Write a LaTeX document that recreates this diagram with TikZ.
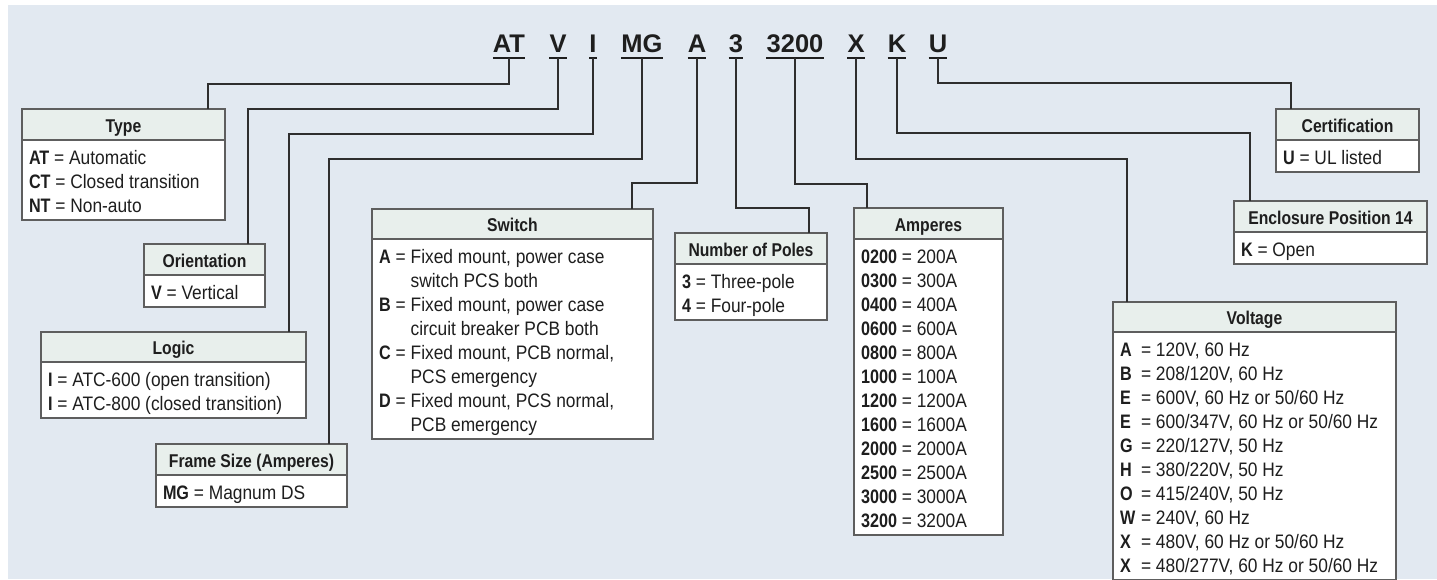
\documentclass[tikz,border=0pt]{standalone}
\usepackage{fontspec}
\setmainfont{Liberation Sans}
\newfontfamily\txtfnt{Liberation Sans}[FakeStretch=0.89]
\newfontfamily\lblfnt{Liberation Sans Bold}[FakeStretch=0.83]
\newfontfamily\hdrfnt{Liberation Sans Bold}[FakeStretch=0.85]
\newfontfamily\codefnt{Liberation Sans Bold}
\newcommand\lb[1]{{\lblfnt #1}}
\definecolor{bgcol}{HTML}{E2E9F1}
\definecolor{hdrcol}{HTML}{E8EFEC}
\definecolor{bordercol}{HTML}{5E5E5E}
\definecolor{linecol}{HTML}{2E2E2E}
\definecolor{textcol}{HTML}{1E1E1E}
\usetikzlibrary{calc}
\tikzset{
  hdr/.style={draw=bordercol, line width=1.3pt, fill=hdrcol, anchor=north west, inner sep=0pt, outer sep=0pt,
    font=\hdrfnt\fontsize{18.5}{20}\selectfont, text=textcol, text height=15pt, text depth=0pt},
  bdy/.style={draw=bordercol, line width=1.3pt, fill=white, anchor=north west, inner xsep=7pt, inner ysep=0pt, outer sep=0pt,
    font=\txtfnt\fontsize{19.5}{24}\selectfont, text=textcol, text height=24pt},
  conn/.style={draw=linecol, line width=1.4pt},
  code/.style={font=\codefnt\fontsize{25.5}{28}\selectfont, text=textcol, anchor=base, inner sep=0pt},
  uline/.style={draw=textcol, line width=2.6pt},
}
\begin{document}
\begin{tikzpicture}[x=1pt,y=-1pt]
\path[use as bounding box] (0,0) rectangle (1437,579);
\clip (0,0) rectangle (1437,579);
\fill[bgcol] (8,5) rectangle (1437,579);

% code letters
\node[code] (cAT) at (509,52) {AT};
\node[code] (cV) at (558,52) {V};
\node[code] (cI) at (593,52) {I};
\node[code] (cMG) at (642,52) {MG};
\node[code] (cA) at (697,52) {A};
\node[code] (c3) at (736,52) {3};
\node[code] (c3200) at (795,52) {3200};
\node[code] (cX) at (856,52) {X};
\node[code] (cK) at (897,52) {K};
\node[code] (cU) at (938,52) {U};
\foreach \n in {AT,V,I,MG,A,3,3200,X,K,U}{
  \draw[uline] ([yshift=-6pt]c\n.base west) -- ([yshift=-6pt]c\n.base east);
  \coordinate (u\n) at ([yshift=-6pt]c\n.base);
}

% boxes
\node[hdr, minimum width=203pt, minimum height=31pt] (typeH) at (22,109) {Type};
\node[bdy, text depth=56pt] (typeB) at (22,140) {\makebox[189pt][l]{\begin{tabular}[t]{@{}l@{}}
\lb{AT} = Automatic\\ \lb{CT} = Closed transition\\ \lb{NT} = Non-auto\end{tabular}}};

\node[hdr, minimum width=121pt, minimum height=31pt] (oriH) at (144,244) {Orientation};
\node[bdy, text depth=8pt] (oriB) at (144,275) {\makebox[107pt][l]{\begin{tabular}[t]{@{}l@{}}
\lb{V} = Vertical\end{tabular}}};

\node[hdr, minimum width=265pt, minimum height=30pt] (logH) at (41,332) {Logic};
\node[bdy, text depth=32pt] (logB) at (41,362) {\makebox[251pt][l]{\begin{tabular}[t]{@{}l@{}}
\lb{I} = ATC-600 (open transition)\\ \lb{I} = ATC-800 (closed transition)\end{tabular}}};

\node[hdr, minimum width=191pt, minimum height=31pt] (frmH) at (156,444) {Frame Size (Amperes)};
\node[bdy, text depth=8pt] (frmB) at (156,475) {\makebox[177pt][l]{\begin{tabular}[t]{@{}l@{}}
\lb{MG} = Magnum DS\end{tabular}}};

\node[hdr, minimum width=281pt, minimum height=30pt] (swH) at (372,209) {Switch};
\node[bdy, text depth=176pt] (swB) at (372,239) {\makebox[267pt][l]{\begin{tabular}[t]{@{}l@{\hspace{5pt}}l@{}}
\lb{A} = & Fixed mount, power case\\ & switch PCS both\\
\lb{B} = & Fixed mount, power case\\ & circuit breaker PCB both\\
\lb{C} = & Fixed mount, PCB normal,\\ & PCS emergency\\
\lb{D} = & Fixed mount, PCS normal,\\ & PCB emergency\end{tabular}}};

\node[hdr, minimum width=152pt, minimum height=31pt] (polH) at (675,233) {Number of Poles};
\node[bdy, text depth=32pt] (polB) at (675,264) {\makebox[138pt][l]{\begin{tabular}[t]{@{}l@{}}
\lb{3} = Three-pole\\ \lb{4} = Four-pole\end{tabular}}};

\node[hdr, minimum width=149pt, minimum height=31pt] (ampH) at (854,208) {Amperes};
\node[bdy, text depth=272pt] (ampB) at (854,239) {\makebox[135pt][l]{\begin{tabular}[t]{@{}l@{}}
\lb{0200} = 200A\\ \lb{0300} = 300A\\ \lb{0400} = 400A\\ \lb{0600} = 600A\\
\lb{0800} = 800A\\ \lb{1000} = 100A\\ \lb{1200} = 1200A\\ \lb{1600} = 1600A\\
\lb{2000} = 2000A\\ \lb{2500} = 2500A\\ \lb{3000} = 3000A\\ \lb{3200} = 3200A\end{tabular}}};

\node[hdr, minimum width=283pt, minimum height=30pt] (volH) at (1113,302) {Voltage};
\node[bdy, text depth=224pt] (volB) at (1113,332) {\makebox[269pt][l]{\begin{tabular}[t]{@{}l@{}}
\makebox[21pt][l]{\lb{A}}= 120V, 60 Hz\\
\makebox[21pt][l]{\lb{B}}= 208/120V, 60 Hz\\
\makebox[21pt][l]{\lb{E}}= 600V, 60 Hz or 50/60 Hz\\
\makebox[21pt][l]{\lb{E}}= 600/347V, 60 Hz or 50/60 Hz\\
\makebox[21pt][l]{\lb{G}}= 220/127V, 50 Hz\\
\makebox[21pt][l]{\lb{H}}= 380/220V, 50 Hz\\
\makebox[21pt][l]{\lb{O}}= 415/240V, 50 Hz\\
\makebox[21pt][l]{\lb{W}}= 240V, 60 Hz\\
\makebox[21pt][l]{\lb{X}}= 480V, 60 Hz or 50/60 Hz\\
\makebox[21pt][l]{\lb{X}}= 480/277V, 60 Hz or 50/60 Hz\end{tabular}}};

\node[hdr, minimum width=143pt, minimum height=31pt] (cerH) at (1276,109) {Certification};
\node[bdy, text depth=8pt] (cerB) at (1276,140) {\makebox[129pt][l]{\begin{tabular}[t]{@{}l@{}}
\lb{U} = UL listed\end{tabular}}};

\node[hdr, minimum width=193pt, minimum height=31pt] (encH) at (1234,201) {Enclosure Position 14};
\node[bdy, text depth=8pt] (encB) at (1234,232) {\makebox[179pt][l]{\begin{tabular}[t]{@{}l@{}}
\lb{K} = Open\end{tabular}}};

% connector bends
\coordinate (bAT) at (208,84);
\coordinate (bV) at (248,109);
\coordinate (bI) at (289,134);
\coordinate (bMG) at (329,159);
\coordinate (bA) at (632,183);
\coordinate (b3) at (809,208);
\coordinate (b3200) at (867,184);
\coordinate (bX) at (1127,159);
\coordinate (bK) at (1250,133);
\coordinate (bU) at (1291,83);

\draw[conn] (uAT) |- (bAT) -- (typeH.north -| bAT);
\draw[conn] (uV) |- (bV) -- (oriH.north -| bV);
\draw[conn] (uI) |- (bI) -- (logH.north -| bI);
\draw[conn] (uMG) |- (bMG) -- (frmH.north -| bMG);
\draw[conn] (uA) |- (bA) -- (swH.north -| bA);
\draw[conn] (u3) |- (b3) -- (polH.north -| b3);
\draw[conn] (u3200) |- (b3200) -- (ampH.north -| b3200);
\draw[conn] (uX) |- (bX) -- (volH.north -| bX);
\draw[conn] (uK) |- (bK) -- (encH.north -| bK);
\draw[conn] (uU) |- (bU) -- (cerH.north -| bU);
\end{tikzpicture}
\end{document}
